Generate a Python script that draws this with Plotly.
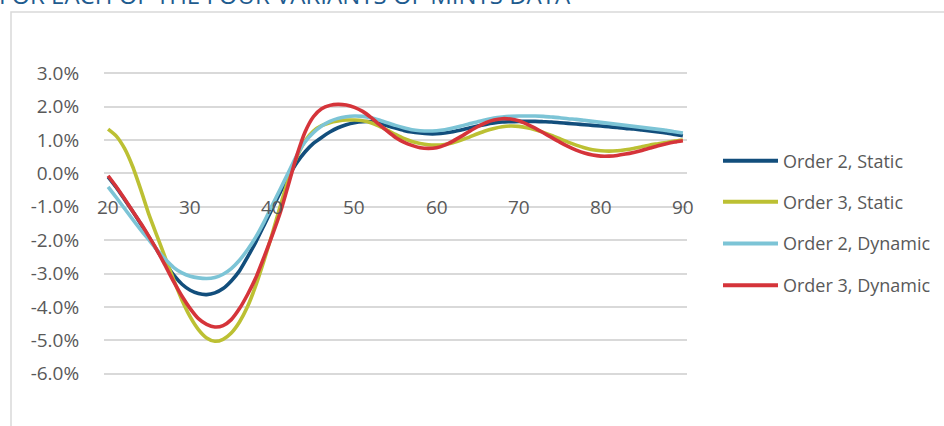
import plotly.graph_objects as go

ages = list(range(20, 91))

order2_static = [
    -0.10, -0.42, -0.78, -1.14, -1.52, -1.92, -2.32, -2.70, -3.05, -3.32,
    -3.50, -3.60, -3.63, -3.58, -3.45, -3.22, -2.92, -2.50, -2.05, -1.55,
    -1.05, -0.55, -0.08, 0.33, 0.65, 0.90, 1.08, 1.24, 1.37, 1.46,
    1.52, 1.55, 1.55, 1.50, 1.43, 1.36, 1.29, 1.24, 1.21, 1.19,
    1.19, 1.21, 1.25, 1.30, 1.36, 1.42, 1.47, 1.51, 1.54, 1.55,
    1.56, 1.56, 1.56, 1.55, 1.54, 1.52, 1.50, 1.48, 1.46, 1.44,
    1.42, 1.40, 1.38, 1.35, 1.33, 1.30, 1.27, 1.24, 1.21, 1.17,
    1.13,
]
order3_static = [
    1.33, 1.12, 0.75, 0.20, -0.50, -1.25, -1.90, -2.55, -3.20, -3.80,
    -4.30, -4.68, -4.93, -5.03, -4.97, -4.78, -4.45, -3.98, -3.35, -2.60,
    -1.80, -0.95, -0.15, 0.50, 0.98, 1.27, 1.43, 1.52, 1.57, 1.60,
    1.60, 1.58, 1.52, 1.42, 1.30, 1.17, 1.05, 0.96, 0.90, 0.86,
    0.85, 0.87, 0.92, 1.00, 1.09, 1.19, 1.28, 1.35, 1.40, 1.42,
    1.41, 1.37, 1.31, 1.23, 1.14, 1.04, 0.94, 0.85, 0.77, 0.71,
    0.68, 0.67, 0.68, 0.71, 0.75, 0.80, 0.85, 0.89, 0.93, 0.97,
    1.00,
]
order2_dynamic = [
    -0.40, -0.72, -1.05, -1.38, -1.70, -2.00, -2.30, -2.58, -2.82, -2.98,
    -3.08, -3.13, -3.15, -3.12, -3.02, -2.85, -2.60, -2.28, -1.90, -1.45,
    -0.95, -0.45, 0.05, 0.55, 0.95, 1.22, 1.42, 1.56, 1.65, 1.70,
    1.72, 1.71, 1.67, 1.60, 1.52, 1.44, 1.37, 1.31, 1.28, 1.27,
    1.28, 1.31, 1.36, 1.42, 1.49, 1.55, 1.61, 1.66, 1.69, 1.71,
    1.72, 1.72, 1.72, 1.71, 1.69, 1.67, 1.64, 1.62, 1.59, 1.56,
    1.53, 1.50, 1.47, 1.44, 1.41, 1.38, 1.35, 1.32, 1.29, 1.25,
    1.21,
]
order3_dynamic = [
    -0.07, -0.40, -0.76, -1.13, -1.50, -1.90, -2.32, -2.78, -3.25, -3.68,
    -4.05, -4.35, -4.52, -4.60, -4.56, -4.38, -4.05, -3.62, -3.12, -2.50,
    -1.85, -1.15, -0.30, 0.55, 1.25, 1.70, 1.94, 2.04, 2.07, 2.05,
    1.98, 1.86, 1.68, 1.47, 1.27, 1.08, 0.94, 0.84, 0.77, 0.75,
    0.77, 0.85, 0.97, 1.11, 1.26, 1.40, 1.52, 1.60, 1.64, 1.63,
    1.58, 1.48, 1.36, 1.22, 1.08, 0.94, 0.81, 0.70, 0.61, 0.55,
    0.52, 0.52, 0.54, 0.58, 0.63, 0.69, 0.76, 0.83, 0.89, 0.94,
    0.98,
]

series_names = ["Order 2, Static", "Order 3, Static", "Order 2, Dynamic", "Order 3, Dynamic"]
series_values = [order2_static, order3_static, order2_dynamic, order3_dynamic]
series_colors = ["#124E7C", "#BCC033", "#7CC4D6", "#D5343A"]

x_ticks = [20, 30, 40, 50, 60, 70, 80, 90]
y_ticks = [3, 2, 1, 0, -1, -2, -3, -4, -5, -6]
y_ticktext = [("-" if v < 0 else "") + f"{abs(v):.1f}%" for v in y_ticks]
x_label_level = -1.0

title_text = "FOR EACH OF THE FOUR VARIANTS OF MINTS DATA"

FONT = "Open Sans"
GRAY = "#595959"

fig = go.Figure()
for name, vals, col in zip(series_names, series_values, series_colors):
    fig.add_trace(go.Scatter(
        x=ages, y=vals, name=name, mode="lines",
        line=dict(color=col, width=3.6, shape="spline", smoothing=0.6),
        showlegend=False, hoverinfo="skip",
    ))

# plot geometry (pixels)
W, H = 944, 426
L, R = 104, 687
T, B = 70, 376.7
ph = B - T
pw = R - L

def px_to_paper_x(px):
    return (px - L) / pw

def px_to_paper_y(py):
    return (B - py) / ph

# x tick labels sitting on the -1% gridline
for t in x_ticks:
    fig.add_annotation(x=t, y=x_label_level, xref="x", yref="y", text=str(t),
                       showarrow=False, xanchor="center", yanchor="middle",
                       font=dict(family=FONT, size=19, color=GRAY))

# custom legend
legend_y = [160.7, 201.7, 243.3, 285.0]
for name, col, ly in zip(series_names, series_colors, legend_y):
    fig.add_shape(type="line", xref="paper", yref="paper",
                  x0=px_to_paper_x(723), x1=px_to_paper_x(778),
                  y0=px_to_paper_y(ly), y1=px_to_paper_y(ly),
                  line=dict(color=col, width=4))
    fig.add_annotation(xref="paper", yref="paper", x=px_to_paper_x(781),
                       y=px_to_paper_y(ly), text=name, showarrow=False,
                       xanchor="left", yanchor="middle",
                       font=dict(family=FONT, size=18, color=GRAY))

# outer border of chart area
fig.add_shape(type="rect", xref="paper", yref="paper",
              x0=px_to_paper_x(11), x1=px_to_paper_x(1000),
              y0=px_to_paper_y(500), y1=px_to_paper_y(12),
              line=dict(color="#D9D9D9", width=1.5), layer="below")

# title, partially cut at the top (as in the reference)
fig.add_annotation(xref="paper", yref="paper", x=px_to_paper_x(-3),
                   y=px_to_paper_y(13), text=title_text, showarrow=False,
                   xanchor="left", yanchor="bottom",
                   font=dict(family=FONT, size=24, color="#1F5C8F"))

fig.update_layout(
    width=W, height=H,
    margin=dict(l=L, r=W - R, t=T, b=H - B, pad=0),
    paper_bgcolor="white", plot_bgcolor="white",
    xaxis=dict(range=[19.5, 90.5], showgrid=False, zeroline=False,
               showticklabels=False, showline=False, fixedrange=True),
    yaxis=dict(range=[-6.1, 3.1], tickvals=y_ticks, ticktext=y_ticktext,
               showgrid=True, gridcolor="#D9D9D9", gridwidth=1.6,
               zeroline=False, showline=False,
               ticks="outside", ticklen=20, tickcolor="rgba(0,0,0,0)",
               tickfont=dict(family=FONT, size=19, color=GRAY)),
    showlegend=False,
)

fig.write_html("out.html")
